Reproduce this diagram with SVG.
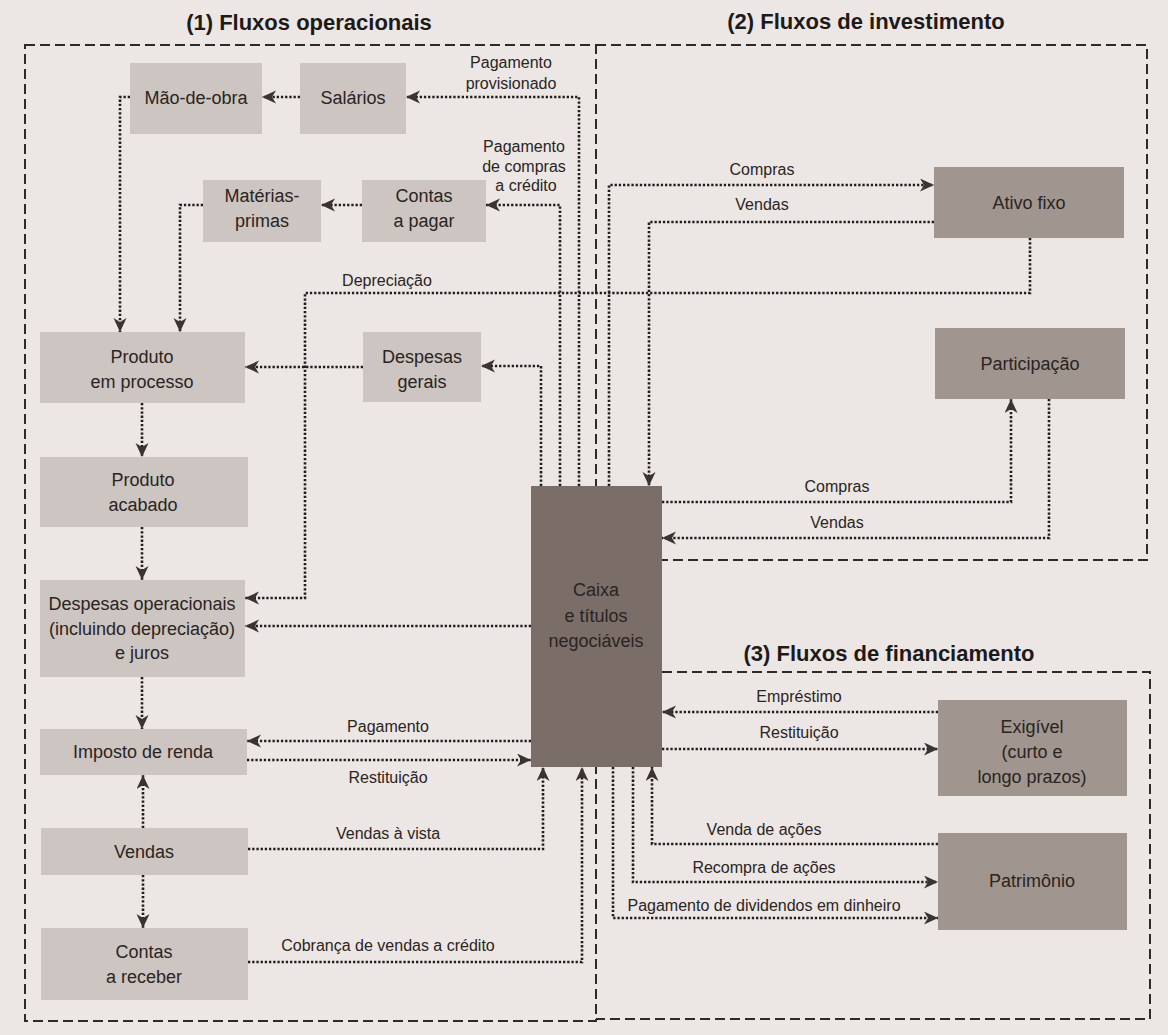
<svg xmlns="http://www.w3.org/2000/svg" width="1168" height="1035" viewBox="0 0 1168 1035">
<defs>
<marker id="ah" markerUnits="userSpaceOnUse" markerWidth="15" markerHeight="14" refX="14" refY="6.5" orient="auto">
<path d="M0,0 L14,6.5 L0,13 L4,6.5 Z" fill="#3a3331"/>
</marker>
<style>
.bg{fill:#ece7e5}
.frame{fill:none;stroke:#2e2a29;stroke-width:2;stroke-dasharray:10 5}
.dot{fill:none;stroke:#221e1e;stroke-width:2.6;stroke-dasharray:2.3 1.9;marker-end:url(#ah)}
.n1{fill:#cdc5c1}
.n2{fill:#a1958f}
.n3{fill:#7b6e68}
text{font-family:"Liberation Sans",Arial,sans-serif;fill:#2a2422;text-anchor:middle}
.t{font-size:18px}
.l{font-size:16px}
.h{font-size:22px;font-weight:bold;fill:#1e1a19}
</style>
</defs>
<rect class="bg" x="0" y="0" width="1168" height="1035"/>

<g id="frames">
<rect class="frame" x="25" y="45" width="571" height="976"/>
<path class="frame" d="M596,45 H1147 V560 H662"/>
<path class="frame" d="M662,672 H1150 V1019 H596"/>
</g>

<g id="titles">
<text class="h" x="309" y="30">(1) Fluxos operacionais</text>
<text class="h" x="866" y="29">(2) Fluxos de investimento</text>
<text class="h" x="889" y="661">(3) Fluxos de financiamento</text>
</g>

<g id="connectors">
<path class="dot" d="M579,486 V97 H406"/>
<path class="dot" d="M300,97 H262"/>
<path class="dot" d="M130,97 H120 V332"/>
<path class="dot" d="M560,486 V205 H486"/>
<path class="dot" d="M362,205 H321"/>
<path class="dot" d="M203,205 H180 V332"/>
<path class="dot" d="M541,486 V366 H481"/>
<path class="dot" d="M363,367 H245"/>
<path class="dot" d="M142,403 V457"/>
<path class="dot" d="M142,527 V580"/>
<path class="dot" d="M1030,238 V293 H305 V598 H245"/>
<path class="dot" d="M531,626 H245"/>
<path class="dot" d="M142,677 V729"/>
<path class="dot" d="M531,741 H247"/>
<path class="dot" d="M247,760 H531"/>
<path class="dot" d="M143,828 V775"/>
<path class="dot" d="M143,875 V928"/>
<path class="dot" d="M248,849 H543 V767"/>
<path class="dot" d="M248,962 H582 V767"/>
<path class="dot" d="M609,486 V185 H934"/>
<path class="dot" d="M934,222 H649 V486"/>
<path class="dot" d="M662,502 H1011 V399"/>
<path class="dot" d="M1049,399 V538 H662"/>
<path class="dot" d="M938,712 H662"/>
<path class="dot" d="M662,749 H938"/>
<path class="dot" d="M938,844 H652 V767"/>
<path class="dot" d="M633,767 V882 H938"/>
<path class="dot" d="M613,767 V918 H938"/>
</g>

<g id="connector-labels">
<text class="l" x="511" y="68">Pagamento</text>
<text class="l" x="511" y="89">provisionado</text>
<text class="l" x="524" y="152">Pagamento</text>
<text class="l" x="524" y="172">de compras</text>
<text class="l" x="526" y="191">a crédito</text>
<text class="l" x="762" y="175">Compras</text>
<text class="l" x="762" y="210">Vendas</text>
<text class="l" x="387" y="286">Depreciação</text>
<text class="l" x="837" y="492">Compras</text>
<text class="l" x="837" y="528">Vendas</text>
<text class="l" x="388" y="732">Pagamento</text>
<text class="l" x="388" y="783">Restituição</text>
<text class="l" x="388" y="839">Vendas à vista</text>
<text class="l" x="388" y="951">Cobrança de vendas a crédito</text>
<text class="l" x="799" y="702">Empréstimo</text>
<text class="l" x="799" y="738">Restituição</text>
<text class="l" x="764" y="835">Venda de ações</text>
<text class="l" x="764" y="873">Recompra de ações</text>
<text class="l" x="764" y="911">Pagamento de dividendos em dinheiro</text>
</g>

<g id="maodeobra"><rect class="n1" x="130" y="63" width="132" height="71"/><text class="t" x="196" y="104">Mão-de-obra</text></g>
<g id="salarios"><rect class="n1" x="300" y="63" width="106" height="71"/><text class="t" x="353" y="104">Salários</text></g>
<g id="materias"><rect class="n1" x="203" y="180" width="118" height="62"/><text class="t" x="262" y="202">Matérias-</text><text class="t" x="262" y="227">primas</text></g>
<g id="contaspagar"><rect class="n1" x="362" y="180" width="124" height="62"/><text class="t" x="424" y="202">Contas</text><text class="t" x="424" y="227">a pagar</text></g>
<g id="produtoprocesso"><rect class="n1" x="40" y="332" width="205" height="71"/><text class="t" x="142" y="363">Produto</text><text class="t" x="142" y="388">em processo</text></g>
<g id="despesasgerais"><rect class="n1" x="363" y="332" width="118" height="70"/><text class="t" x="422" y="363">Despesas</text><text class="t" x="422" y="388">gerais</text></g>
<g id="produtoacabado"><rect class="n1" x="40" y="457" width="208" height="70"/><text class="t" x="143" y="486">Produto</text><text class="t" x="143" y="511">acabado</text></g>
<g id="despesasop"><rect class="n1" x="40" y="580" width="205" height="97"/><text class="t" x="142" y="610">Despesas operacionais</text><text class="t" x="142" y="635">(incluindo depreciação)</text><text class="t" x="142" y="659">e juros</text></g>
<g id="imposto"><rect class="n1" x="40" y="729" width="207" height="46"/><text class="t" x="143" y="758">Imposto de renda</text></g>
<g id="vendas"><rect class="n1" x="41" y="828" width="207" height="47"/><text class="t" x="144" y="858">Vendas</text></g>
<g id="contasreceber"><rect class="n1" x="41" y="928" width="207" height="72"/><text class="t" x="144" y="958">Contas</text><text class="t" x="144" y="983">a receber</text></g>

<g id="ativofixo"><rect class="n2" x="934" y="167" width="190" height="71"/><text class="t" x="1029" y="209">Ativo fixo</text></g>
<g id="participacao"><rect class="n2" x="935" y="328" width="190" height="71"/><text class="t" x="1030" y="370">Participação</text></g>
<g id="exigivel"><rect class="n2" x="938" y="700" width="189" height="96"/><text class="t" x="1032" y="733">Exigível</text><text class="t" x="1032" y="758">(curto e</text><text class="t" x="1032" y="783">longo prazos)</text></g>
<g id="patrimonio"><rect class="n2" x="938" y="833" width="189" height="97"/><text class="t" x="1032" y="887">Patrimônio</text></g>

<g id="caixa"><rect class="n3" x="531" y="486" width="131" height="281"/><text class="t" x="596" y="596">Caixa</text><text class="t" x="596" y="622">e títulos</text><text class="t" x="596" y="647">negociáveis</text></g>
</svg>
